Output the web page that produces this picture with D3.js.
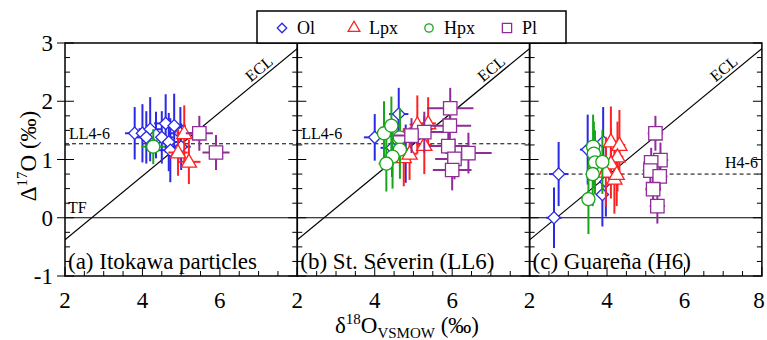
<!DOCTYPE html>
<html>
<head>
<meta charset="utf-8">
<script src="https://cdn.jsdelivr.net/npm/d3@7"></script>
<style>
  body { margin: 0; background: #fff; }
</style>
</head>
<body>
<div id="chart"></div>
<script>
// each point: [d18O, D17O, x error, y error]
const itoOl = [[3.8,1.45,0.25,0.45],[4.0,1.45,0.3,0.5],[4.2,1.52,0.3,0.55],[4.35,1.42,0.25,0.4],
  [4.1,1.38,0.3,0.45],[4.5,1.38,0.3,0.45],[4.6,1.62,0.3,0.5],[4.68,1.3,0.25,0.5],
  [4.82,1.58,0.3,0.55],[4.72,1.16,0.3,0.55],[4.98,1.45,0.3,0.45],[5.0,1.22,0.25,0.4]];
const itoLpx = [[5.08,1.45,0.2,0.48],[4.92,1.12,0.25,0.4],[5.2,0.96,0.3,0.38]];
const itoHpx = [[4.28,1.22,0.3,0.3]];
const itoPl = [[5.47,1.45,0.35,0.3],[5.9,1.12,0.35,0.3]];

const sevOl = [[4.0,1.38,0.28,0.4],[4.62,1.78,0.25,0.45],[4.45,1.2,0.3,0.5],[4.62,1.4,0.25,0.45],[4.8,1.1,0.2,0.5]];
const sevLpx = [[5.1,1.6,0.2,0.5],[5.38,1.62,0.2,0.45],[5.28,1.25,0.2,0.5],[4.75,1.04,0.2,0.5],[4.9,1.1,0.2,0.45]];
const sevHpx = [[4.24,1.45,0.2,0.55],[4.43,1.58,0.2,0.5],[4.65,1.38,0.2,0.5],[4.65,1.17,0.2,0.5],[4.46,1.05,0.2,0.55],[4.3,0.93,0.2,0.48]];
const sevPl = [[5.95,1.88,0.6,0.35],[5.94,1.58,0.55,0.35],[5.28,1.47,0.5,0.35],[4.95,1.41,0.45,0.3],
  [5.9,1.23,0.5,0.35],[6.42,1.11,0.6,0.35],[6.06,1.01,0.5,0.35],[6.0,0.82,0.5,0.35]];

const guaOl = [[2.75,0.75,0.25,0.55],[2.63,0.0,0.2,0.52],[3.5,1.17,0.2,0.6],[3.9,1.3,0.15,0.6],[3.88,0.4,0.15,0.55],[3.97,0.62,0.15,0.6]];
const guaLpx = [[4.1,1.31,0.15,0.6],[4.32,1.25,0.15,0.6],[4.27,1.05,0.15,0.6],[4.1,0.93,0.15,0.6],
  [3.97,0.79,0.15,0.6],[4.19,0.67,0.15,0.6],[4.25,0.75,0.15,0.55]];
const guaHpx = [[3.64,1.22,0.1,0.55],[3.66,1.1,0.1,0.55],[3.69,0.95,0.1,0.55],[3.88,0.96,0.1,0.55],[3.63,0.75,0.1,0.55],[3.52,0.32,0.1,0.6]];
const guaPl = [[5.25,1.45,0.2,0.3],[5.38,0.99,0.2,0.3],[5.14,0.95,0.2,0.25],[5.12,0.81,0.2,0.25],[5.36,0.71,0.2,0.25],[5.19,0.49,0.2,0.25],[5.3,0.2,0.2,0.3]];

const minerals = ["Ol", "Lpx", "Hpx", "Pl"];
const colors = {Ol: "#2a2ae6", Lpx: "#ff2222", Hpx: "#19a519", Pl: "#8e2d97"};
const panelNames = ["(a) Itokawa particles", "(b) St. Séverin (LL6)", "(c) Guareña (H6)"];
const refNames = ["LL4-6", "LL4-6", "H4-6"];
const refValues = [1.27, 1.27, 0.75];
const xTickLabels = [[2, 4, 6], [2, 4, 6], [2, 4, 6, 8]];
const yTickLabels = [-1, 0, 1, 2, 3];
const eclStart = [2, -0.38], eclEnd = [8.3, 3.07];

const panels = [
  {Ol: itoOl, Lpx: itoLpx, Hpx: itoHpx, Pl: itoPl},
  {Ol: sevOl, Lpx: sevLpx, Hpx: sevHpx, Pl: sevPl},
  {Ol: guaOl, Lpx: guaLpx, Hpx: guaHpx, Pl: guaPl}
];

const width = 767, height = 340;
const plotLeft = 65, plotTop = 43, plotBottom = 276, pw = 232.3;

const svg = d3.select("#chart").append("svg")
  .attr("width", width).attr("height", height)
  .attr("font-family", "'Liberation Serif', 'Times New Roman', serif");

const y = d3.scaleLinear().domain([-1, 3]).range([plotBottom, plotTop]);

const symbols = {
  Ol: d3.symbol().type(d3.symbolSquare).size(75),
  Lpx: d3.symbol().type(d3.symbolTriangle).size(100),
  Hpx: d3.symbol().type(d3.symbolCircle).size(135),
  Pl: d3.symbol().type(d3.symbolSquare).size(180)
};

panels.forEach((pd, i) => {
  const x0 = plotLeft + i * pw;
  const x = d3.scaleLinear().domain([2, 8]).range([x0, x0 + pw]);
  const g = svg.append("g");
  const clipId = "clip" + i;
  svg.append("clipPath").attr("id", clipId).append("rect")
    .attr("x", x0).attr("y", plotTop).attr("width", pw).attr("height", plotBottom - plotTop);

  // reference lines
  g.append("line").attr("x1", x0).attr("x2", x0 + pw).attr("y1", y(0)).attr("y2", y(0))
    .attr("stroke", "#000").attr("stroke-width", 1.2);
  g.append("line").attr("x1", x0).attr("x2", x0 + pw).attr("y1", y(refValues[i])).attr("y2", y(refValues[i]))
    .attr("stroke", "#000").attr("stroke-width", 1).attr("stroke-dasharray", "4,3");
  g.append("line").attr("clip-path", `url(#${clipId})`)
    .attr("x1", x(eclStart[0])).attr("y1", y(eclStart[1]))
    .attr("x2", x(eclEnd[0])).attr("y2", y(eclEnd[1]))
    .attr("stroke", "#000").attr("stroke-width", 1.2);

  // ECL label along the line
  const ang = Math.atan2(y(eclEnd[1]) - y(eclStart[1]), x(eclEnd[0]) - x(eclStart[0])) * 180 / Math.PI;
  g.append("text").attr("transform", `translate(${x(7.1)},${y(2.4) - 5}) rotate(${ang})`)
    .attr("text-anchor", "middle").attr("font-size", 16).text("ECL");

  if (i < 2) {
    g.append("text").attr("x", x0 + 4).attr("y", y(refValues[i]) - 5)
      .attr("font-size", 16).text(refNames[i]);
  } else {
    g.append("text").attr("x", x0 + pw - 4).attr("y", y(refValues[i]) - 6)
      .attr("text-anchor", "end").attr("font-size", 16).text(refNames[i]);
  }
  if (i === 0) {
    g.append("text").attr("x", x0 + 3).attr("y", y(0) - 5).attr("font-size", 16).text("TF");
  }

  // data
  minerals.forEach(m => {
    const pts = pd[m];
    const c = colors[m];
    const eg = g.append("g").attr("stroke", c).attr("stroke-width", 2);
    eg.selectAll(".v").data(pts).enter().append("line")
      .attr("x1", d => x(d[0])).attr("x2", d => x(d[0]))
      .attr("y1", d => y(d[1] - d[3])).attr("y2", d => y(d[1] + d[3]));
    eg.selectAll(".h").data(pts).enter().append("line")
      .attr("y1", d => y(d[1])).attr("y2", d => y(d[1]))
      .attr("x1", d => x(d[0] - d[2])).attr("x2", d => x(d[0] + d[2]));
    g.selectAll(".m" + m).data(pts).enter().append("path")
      .attr("d", symbols[m])
      .attr("transform", d => `translate(${x(d[0])},${y(d[1])})` + (m === "Ol" ? " rotate(45)" : "") + (m === "Lpx" ? " translate(0,1)" : ""))
      .attr("fill", "#fff").attr("stroke", c).attr("stroke-width", 1.3);
  });

  // frame
  g.append("rect").attr("x", x0).attr("y", plotTop).attr("width", pw).attr("height", plotBottom - plotTop)
    .attr("fill", "none").attr("stroke", "#000").attr("stroke-width", 1.5);

  // x ticks (inside)
  const xMinor = d3.range(2, 8.01, 0.5);
  g.selectAll(".xt").data(xMinor).enter().append("line")
    .attr("x1", d => x(d)).attr("x2", d => x(d))
    .attr("y1", plotBottom).attr("y2", d => plotBottom - (d % 2 === 0 ? 9 : 5))
    .attr("stroke", "#000").attr("stroke-width", 1);
  g.selectAll(".xl").data(xTickLabels[i]).enter().append("text")
    .attr("x", d => x(d) + (d === 8 ? -3 : 0)).attr("y", 308)
    .attr("text-anchor", "middle").attr("font-size", 23).text(d => d);

  // y ticks on both sides
  const yMinor = d3.range(-1, 3.01, 0.25);
  [x0, x0 + pw].forEach((xe, side) => {
    const dir = side === 0 ? 1 : -1;
    g.selectAll(".yt" + side).data(yMinor).enter().append("line")
      .attr("y1", d => y(d)).attr("y2", d => y(d))
      .attr("x1", d => (i === 0 && side === 0 && Number.isInteger(d)) ? xe - 8 : xe)
      .attr("x2", d => xe + dir * (Number.isInteger(d) ? 9 : 5))
      .attr("stroke", "#000").attr("stroke-width", 1);
  });

  g.append("text").attr("x", x0 + 3).attr("y", 269).attr("font-size", 23).text(panelNames[i]);
});

// y tick labels
svg.selectAll(".yl").data(yTickLabels).enter().append("text")
  .attr("x", 53).attr("y", d => y(d) + 8).attr("text-anchor", "end")
  .attr("font-size", 23).text(d => d);

// axis titles
const yt = svg.append("text").attr("transform", `translate(36,156) rotate(-90)`)
  .attr("text-anchor", "middle").attr("font-size", 23);
yt.append("tspan").text("Δ");
yt.append("tspan").attr("font-size", 15).attr("dy", -9).text("17");
yt.append("tspan").attr("dy", 9).text("O (‰)");

const xt = svg.append("text").attr("x", 407).attr("y", 333).attr("text-anchor", "middle").attr("font-size", 23);
xt.append("tspan").text("δ");
xt.append("tspan").attr("font-size", 15).attr("dy", -9).text("18");
xt.append("tspan").attr("dy", 9).text("O");
xt.append("tspan").attr("font-size", 15).attr("dy", 5).text("VSMOW");
xt.append("tspan").attr("dy", -5).text(" (‰)");

// legend
const lg = svg.append("g");
lg.append("rect").attr("x", 257).attr("y", 11).attr("width", 309).attr("height", 32)
  .attr("fill", "#fff").attr("stroke", "#000").attr("stroke-width", 1.5);
const legendX = [282, 354, 429, 507];
const legendSym = {
  Ol: d3.symbol().type(d3.symbolSquare).size(45),
  Lpx: d3.symbol().type(d3.symbolTriangle).size(60),
  Hpx: d3.symbol().type(d3.symbolCircle).size(55),
  Pl: d3.symbol().type(d3.symbolSquare).size(85)
};
minerals.forEach((m, k) => {
  lg.append("path").attr("d", legendSym[m])
    .attr("transform", `translate(${legendX[k]},28)` + (m === "Ol" ? " rotate(45)" : ""))
    .attr("fill", "none").attr("stroke", colors[m]).attr("stroke-width", 1.3);
  lg.append("text").attr("x", legendX[k] + 15).attr("y", 34).attr("font-size", 18).text(m);
});
</script>
</body>
</html>
